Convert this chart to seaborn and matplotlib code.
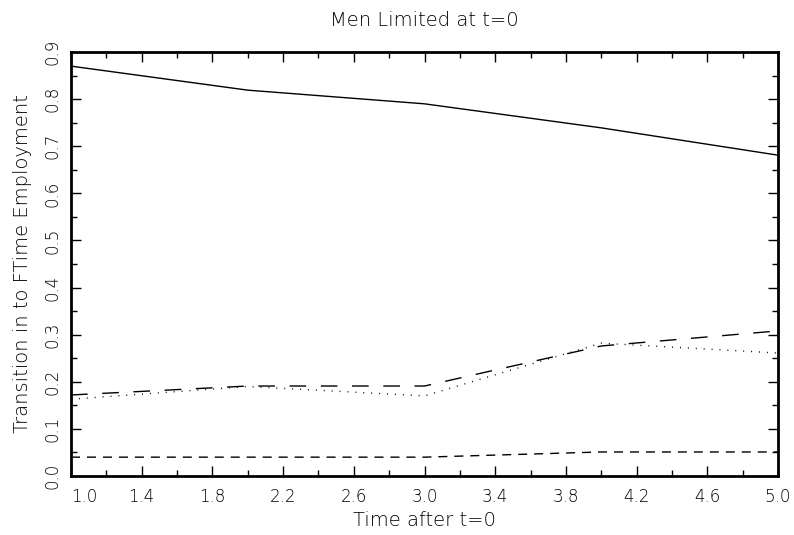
import matplotlib
matplotlib.use("Agg")
import matplotlib.pyplot as plt
from matplotlib.ticker import MultipleLocator
import seaborn as sns
import pandas as pd

time = [1, 2, 3, 4, 5]
solid_vals = [0.870, 0.819, 0.790, 0.739, 0.681]
longdash_vals = [0.172, 0.191, 0.191, 0.276, 0.308]
dotted_vals = [0.163, 0.190, 0.170, 0.282, 0.261]
shortdash_vals = [0.040, 0.040, 0.040, 0.051, 0.051]
xtick_vals = [1.0, 1.4, 1.8, 2.2, 2.6, 3.0, 3.4, 3.8, 4.2, 4.6, 5.0]
ytick_vals = [0.0, 0.1, 0.2, 0.3, 0.4, 0.5, 0.6, 0.7, 0.8, 0.9]

title = "Men Limited at t=0"
xlabel = "Time after t=0"
ylabel = "Transition in to FTime Employment"

sns.set_theme(style="white")
plt.rcParams['font.family'] = ['DejaVu Sans']
plt.rcParams['text.color'] = 'black'
plt.rcParams['axes.labelcolor'] = 'black'
plt.rcParams['xtick.color'] = 'black'
plt.rcParams['ytick.color'] = 'black'

fig = plt.figure(figsize=(7.94, 5.35), dpi=100)
ax = fig.add_axes([71/794, 1-476/535, (778-71)/794, (476-52)/535])

series = [
    (solid_vals, None),
    (longdash_vals, (12, 10.5)),
    (dotted_vals, (0.7, 5)),
    (shortdash_vals, (6.5, 5)),
]
for vals, dash in series:
    df = pd.DataFrame({"t": time, "v": vals})
    sns.lineplot(data=df, x="t", y="v", ax=ax, color="black", lw=1.0)
    if dash is not None:
        ax.lines[-1].set_dashes(dash)

ax.set_xlim(1, 5)
ax.set_ylim(0, 0.9)
ax.xaxis.set_minor_locator(MultipleLocator(0.2))
ax.yaxis.set_minor_locator(MultipleLocator(0.05))
ax.set_xticks(xtick_vals)
ax.set_xticklabels([f"{v:.1f}" for v in xtick_vals])
ax.set_yticks(ytick_vals)
ax.set_yticklabels([f"{v:.1f}" for v in ytick_vals], rotation=90, va="center")

ax.tick_params(which="both", direction="in", top=True, right=True, bottom=True, left=True,
               color="black", labelsize=12, width=1.0)
ax.tick_params(which="major", length=7)
ax.tick_params(which="minor", length=4)
ax.tick_params(axis="x", which="major", pad=9)
ax.tick_params(axis="y", which="major", pad=7)
for lab in ax.get_xticklabels() + ax.get_yticklabels():
    lab.set_fontweight("light")
ax.get_xticklabels()[0].set_horizontalalignment("left")

for s in ax.spines.values():
    s.set_linewidth(2.0)
    s.set_color("black")

ax.set_xlabel(xlabel, fontsize=14, labelpad=3, fontweight="light")
ax.set_ylabel(ylabel, fontsize=14, labelpad=8, fontweight="light")
ax.set_title(title, fontsize=14, pad=19, fontweight="light")

fig.savefig("out.png", dpi=100)
